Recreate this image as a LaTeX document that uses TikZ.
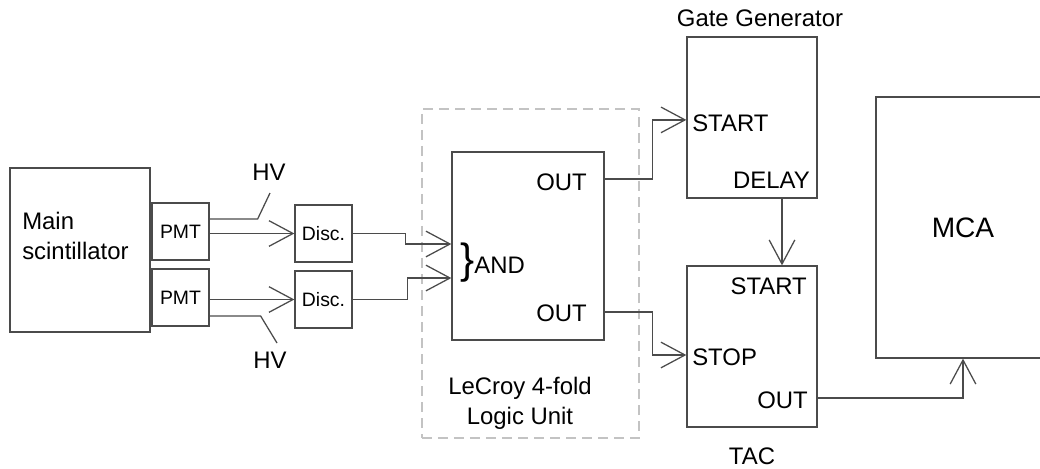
\documentclass[tikz,border=0pt]{standalone}
\usepackage{fontspec}
\setmainfont{Liberation Sans}
\usetikzlibrary{arrows.meta, positioning}
\definecolor{wiregray}{RGB}{75,75,75}
\definecolor{dashgray}{RGB}{195,195,195}

\begin{document}
\begin{tikzpicture}[
    x=0.025cm, y=-0.025cm,
    unit/.style={draw=wiregray, line width=0.9pt, minimum width=3.25cm, minimum height=4.025cm, inner sep=0pt},
    smallbox/.style={draw=wiregray, line width=0.9pt, minimum width=1.425cm, minimum height=1.425cm, inner sep=0pt, font=\fontsize{13.8}{16}\selectfont},
    lbl/.style={inner sep=0pt, font=\fontsize{17}{21.5}\selectfont},
    wire/.style={draw=wiregray, line width=0.9pt},
    arrow/.style={wire, -{Straight Barb[length=6mm, width=6.4mm]}}
]
\useasboundingbox (0,0) rectangle (1040,468);

% Detector
\node[draw=wiregray, line width=0.9pt, minimum width=3.5cm, minimum height=4.1cm] (scint) at (80,250) {};
\node[lbl, anchor=north west, align=left] (scintlbl) at (22,212) {Main\\scintillator};
\node[smallbox] (pmtA) at (180.5,231.5) {PMT};
\node[smallbox] (pmtB) at (180.5,297.5) {PMT};

% Discriminators
\node[smallbox] (discA) at (323.5,233.5) {Disc.};
\node[smallbox] (discB) at (323.5,299.5) {Disc.};

% HV supply
\coordinate (hvAend) at (270,193);
\coordinate (hvBend) at (277,343);
\node[lbl] (hvA) at (269,172) {HV};
\node[lbl] (hvB) at (270,360) {HV};

% Logic unit
\node[draw=dashgray, line width=0.9pt, dash pattern=on 2.5mm off 1.5mm, minimum width=5.425cm, minimum height=8.225cm] (lecroy) at (530.5,273.5) {};
\node[draw=wiregray, line width=0.9pt, minimum width=3.8cm, minimum height=4.7cm] (logic) at (528,246) {};
\node[lbl, anchor=base west] (andlbl) at (460,273.5) {{\fontsize{30}{30}\selectfont\}}AND};
\node[lbl, anchor=base east] (outA) at (587,190) {OUT};
\node[lbl, anchor=base east] (outB) at (587,321) {OUT};
\node[lbl, anchor=north, align=center] (lecroylbl) at (520,377) {LeCroy 4-fold\\Logic Unit};

% Gate generator and TAC
\node[unit] (gg) at (752,117.5) {};
\node[lbl, above=0.24cm of gg, xshift=0.2cm] (gglbl) {Gate Generator};
\node[lbl, anchor=base west] (ggstart) at (692,131.5) {START};
\node[lbl, anchor=base east] (ggdelay) at (810,188.5) {DELAY};
\node[unit] (tac) at (752,346.5) {};
\node[lbl, below=0.49cm of tac] (taclbl) {TAC};
\node[lbl, anchor=base east] (tacstart) at (807,294.5) {START};
\node[lbl, anchor=base west] (tacstop) at (692,365.5) {STOP};
\node[lbl, anchor=base east] (tacout) at (808,408.5) {OUT};

% MCA
\node[draw=wiregray, line width=0.9pt, minimum width=4.35cm, minimum height=6.525cm, font=\fontsize{20}{24}\selectfont] (mca) at (963,227.5) {MCA};

% Wires
\draw[wire] ([yshift=0.3125cm]pmtA.east) -- ++(48,0) -- (hvAend);
\draw[wire] ([yshift=-0.4625cm]pmtB.east) -- ++(51,0) -- (hvBend);
\draw[arrow] (pmtA.east |- discA.west) -- (discA.west);
\draw[arrow] (pmtB.east |- discB.west) -- (discB.west);
\draw[arrow] (discA.east) -- ++(53,0) |- ([yshift=0.05cm]logic.west);
\draw[arrow] (discB.east) -- ++(55,0) |- ([yshift=-0.8cm]logic.west);
\draw[arrow] ([yshift=1.675cm]logic.east) -- ++(48,0) |- ([yshift=-0.06cm]gg.west);
\draw[arrow] ([yshift=-1.65cm]logic.east) -- ++(48,0) |- ([yshift=-0.2125cm]tac.west);
\draw[arrow] ([xshift=0.75cm]gg.south) -- ([xshift=0.75cm]tac.north);
\draw[arrow] ([yshift=-1.2875cm]tac.east) -| (mca.south);

\end{tikzpicture}
\end{document}
